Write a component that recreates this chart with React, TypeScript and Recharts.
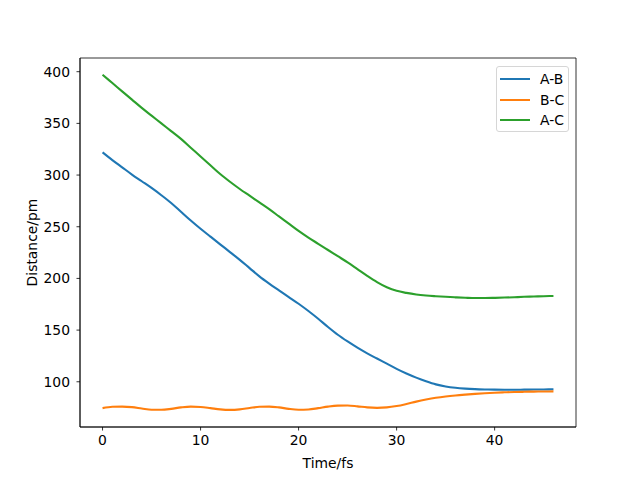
import { LineChart, Line, XAxis, YAxis, Legend, ReferenceArea } from "recharts";

// time axis, fs
const times = [
  0, 1, 2, 3, 4, 5, 6, 7, 8, 9, 10, 11, 12, 13, 14, 15, 16, 17, 18, 19, 20, 21,
  22, 23, 24, 25, 26, 27, 28, 29, 30, 31, 32, 33, 34, 35, 36, 37, 38, 39, 40,
  41, 42, 43, 44, 45, 46,
];

const ab = [
  322, 314.5, 307.5, 300.5, 294, 287.5, 280.5, 273, 264.5, 256, 248, 240.5, 233,
  225.5, 218, 210, 202, 195, 188.5, 182, 175.5, 168.5, 161, 153, 145.5, 139,
  133, 127.5, 122.5, 117.5, 112.5, 108, 104, 100.5, 97.5, 95.5, 94.2, 93.4,
  92.9, 92.6, 92.4, 92.3, 92.3, 92.4, 92.5, 92.6, 92.7,
];

const bc = [
  74.5, 75.8, 76, 75.5, 74.2, 73, 72.9, 73.8, 75.2, 76, 75.6, 74.5, 73.3, 72.8,
  73.3, 74.6, 75.8, 76, 75.2, 73.8, 73, 73.2, 74.5, 76, 76.9, 77, 76.2, 75.2,
  74.8, 75.2, 76.5, 78.5, 80.8, 82.8, 84.5, 85.8, 86.8, 87.6, 88.3, 88.9, 89.4,
  89.8, 90.1, 90.3, 90.5, 90.6, 90.7,
];

const ac = [
  397, 389, 381, 373, 365, 357.5, 350, 342.5, 335, 326.5, 318, 309.5, 301,
  293.5, 286.5, 280, 273.5, 267, 260, 253, 246, 239.5, 233.5, 227.5, 221.5,
  215.5, 209, 202.5, 196.5, 191.5, 188, 186, 184.5, 183.5, 182.8, 182.2, 181.7,
  181.3, 181, 181, 181.2, 181.5, 181.8, 182.2, 182.5, 182.8, 183,
];

const xTicks = [0, 10, 20, 30, 40];
const yTicks = [100, 150, 200, 250, 300, 350, 400];
const xDomain = [-2.3, 48.3];
const yDomain = [56.25, 413.25];

const series = [
  { key: "ab", name: "A-B", color: "#1f77b4" },
  { key: "bc", name: "B-C", color: "#ff7f0e" },
  { key: "ac", name: "A-C", color: "#2ca02c" },
];

const rows = times.map((t, i) => ({ t, ab: ab[i], bc: bc[i], ac: ac[i] }));

const FONT = "'DejaVu Sans', sans-serif";
const FS = 13.9;
const tickStyle = { fill: "#000", fontSize: FS, fontFamily: FONT };

function LegendBox() {
  return (
    <div
      style={{
        width: 73,
        height: 66,
        boxSizing: "border-box",
        border: "1px solid #d6d6d6",
        borderRadius: 3,
        background: "#fff",
        padding: "2px 0 0 3px",
        fontFamily: FONT,
        fontSize: FS,
      }}
    >
      {series.map((s) => (
        <div
          key={s.key}
          style={{ display: "flex", alignItems: "center", height: 20.5 }}
        >
          <span
            style={{
              display: "inline-block",
              width: 30,
              height: 2,
              background: s.color,
              marginRight: 10,
            }}
          />
          <span style={{ lineHeight: "16px" }}>{s.name}</span>
        </div>
      ))}
    </div>
  );
}

export default function App() {
  return (
    <div style={{ position: "absolute", left: 0, top: 0, background: "#fff" }}>
      <LineChart
        width={640}
        height={480}
        data={rows}
        margin={{ top: 58, right: 64, bottom: 0, left: 0 }}
      >
        <XAxis
          dataKey="t"
          type="number"
          domain={xDomain}
          ticks={xTicks}
          allowDataOverflow
          height={53}
          stroke="#000"
          tickSize={3.5}
          tickMargin={5}
          tick={tickStyle}
          tickLine={{ stroke: "#000", strokeWidth: 0.8 }}
          axisLine={{ stroke: "#000", strokeWidth: 0.8 }}
          label={{
            value: "Time/fs",
            position: "insideBottom",
            offset: 12.5,
            fill: "#000",
            fontSize: FS,
            fontFamily: FONT,
          }}
        />
        <YAxis
          type="number"
          domain={yDomain}
          ticks={yTicks}
          allowDataOverflow
          width={80}
          stroke="#000"
          tickSize={3.5}
          tickMargin={6.5}
          tick={tickStyle}
          tickLine={{ stroke: "#000", strokeWidth: 0.8 }}
          axisLine={{ stroke: "#000", strokeWidth: 0.8 }}
          label={{
            content: (props: any) => {
              const vb = props.viewBox || {};
              const cx = (vb.x ?? 0) + 37;
              const cy = (vb.y ?? 0) + (vb.height ?? 0) / 2;
              return (
                <text
                  x={cx}
                  y={cy}
                  transform={`rotate(-90, ${cx}, ${cy})`}
                  textAnchor="middle"
                  fill="#000"
                  fontSize={FS}
                  fontFamily={FONT}
                >
                  Distance/pm
                </text>
              );
            },
          }}
        />
        {/* axes frame (top/right spines) */}
        <ReferenceArea
          x1={xDomain[0]}
          x2={xDomain[1]}
          y1={yDomain[0]}
          y2={yDomain[1]}
          fill="none"
          fillOpacity={0}
          stroke="#000"
          strokeWidth={0.8}
          strokeOpacity={1}
          ifOverflow="visible"
        />
        <Legend
          layout="horizontal"
          align="center"
          verticalAlign="middle"
          content={() => <LegendBox />}
          wrapperStyle={{ position: "absolute", left: 496, top: 66, width: 73 }}
        />
        {series.map((s) => (
          <Line
            key={s.key}
            dataKey={s.key}
            name={s.name}
            type="monotone"
            stroke={s.color}
            strokeWidth={2.1}
            dot={false}
            activeDot={false}
            isAnimationActive={false}
          />
        ))}
      </LineChart>
    </div>
  );
}
